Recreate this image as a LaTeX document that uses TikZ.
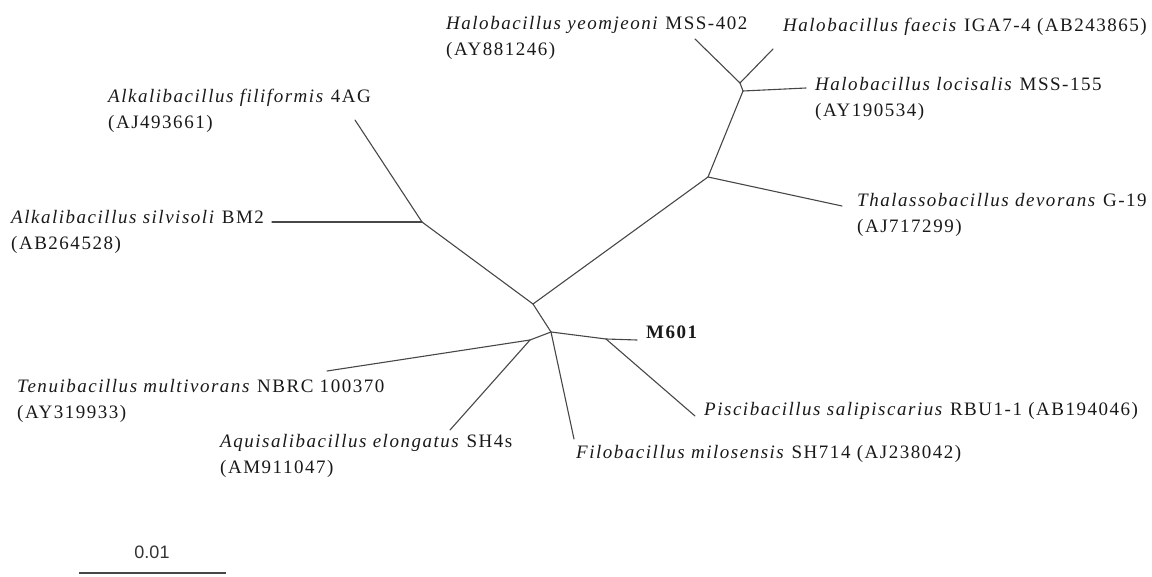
\documentclass[tikz,border=0pt]{standalone}
\usepackage{fontspec}
\setmainfont[LetterSpace=8]{Liberation Serif}
\newfontfamily\barfont{Liberation Sans}
\tikzset{
  branch/.style={draw=black!72, line width=1.1pt, line cap=round},
  taxon/.style={anchor=base west, inner sep=0pt, align=left,
    font=\fontsize{19}{26}\selectfont, text=black!90},
}
\begin{document}
\begin{tikzpicture}[x=1pt, y=-1pt]
    \useasboundingbox (0,0) rectangle (1152,577);

    % inner nodes of the tree
    \coordinate (nA) at (533,304);
    \coordinate (nB) at (551,332);
    \coordinate (nC) at (530,340);
    \coordinate (nD) at (606,339);
    \coordinate (nAlk) at (422,222);
    \coordinate (nT) at (708,177);
    \coordinate (nH) at (743,91);
    \coordinate (nH2) at (740,83);

    % tips
    \coordinate (tYeom) at (695,39);
    \coordinate (tFaec) at (773,49);
    \coordinate (tLoc) at (806,88);
    \coordinate (tThal) at (842,206);
    \coordinate (tFili) at (355,120);
    \coordinate (tSilv) at (272,222);
    \coordinate (tTenui) at (327,371);
    \coordinate (tAquis) at (450,430);
    \coordinate (tFilo) at (574,439);
    \coordinate (tM601) at (637,340);
    \coordinate (tPisci) at (695,416);

    % branches
    \draw[branch] (nA) -- (nB);
    \draw[branch] (nA) -- (nAlk);
    \draw[branch] (nAlk) -- (tFili);
    \draw[branch] (nAlk) -- (tSilv);
    \draw[branch] (nA) -- (nT);
    \draw[branch] (nT) -- (tThal);
    \draw[branch] (nT) -- (nH);
    \draw[branch] (nH) -- (tLoc);
    \draw[branch] (nH) -- (nH2);
    \draw[branch] (nH2) -- (tYeom);
    \draw[branch] (nH2) -- (tFaec);
    \draw[branch] (nB) -- (nC);
    \draw[branch] (nC) -- (tTenui);
    \draw[branch] (nC) -- (tAquis);
    \draw[branch] (nB) -- (tFilo);
    \draw[branch] (nB) -- (nD);
    \draw[branch] (nD) -- (tM601);
    \draw[branch] (nD) -- (tPisci);

    % labels (two-line labels sit on the baseline of their last line)
    \node[taxon] (lYeom) at (446,56) {\textit{Halobacillus yeomjeoni} MSS-402\\(AY881246)};
    \node[taxon] (lFaec) at (783,32) {\textit{Halobacillus faecis} IGA7-4 (AB243865)};
    \node[taxon] (lLoc) at (815,117) {\textit{Halobacillus locisalis} MSS-155\\(AY190534)};
    \node[taxon] (lThal) at (857,233) {\textit{Thalassobacillus devorans} G-19\\(AJ717299)};
    \node[taxon] (lFili) at (108,129) {\textit{Alkalibacillus filiformis} 4AG\\(AJ493661)};
    \node[taxon] (lSilv) at (11,250) {\textit{Alkalibacillus silvisoli} BM2\\(AB264528)};
    \node[taxon] (lTenui) at (17,419) {\textit{Tenuibacillus multivorans} NBRC 100370\\(AY319933)};
    \node[taxon] (lAquis) at (220,473) {\textit{Aquisalibacillus elongatus} SH4s\\(AM911047)};
    \node[taxon, font=\fontsize{19}{26}\selectfont\bfseries] (lM601) at (646,339) {M601};
    \node[taxon] (lPisci) at (704,415) {\textit{Piscibacillus salipiscarius} RBU1-1 (AB194046)};
    \node[taxon] (lFilo) at (576,458) {\textit{Filobacillus milosensis} SH714 (AJ238042)};

    % scale bar
    \coordinate (barL) at (79,573);
    \coordinate (barR) at (226,573);
    \draw[branch, line cap=butt] (barL) -- (barR);
    \node[font=\barfont\fontsize{18}{20}\selectfont, text=black!80, anchor=base, inner sep=0pt] (lBar) at (152,558) {0.01};
\end{tikzpicture}
\end{document}
